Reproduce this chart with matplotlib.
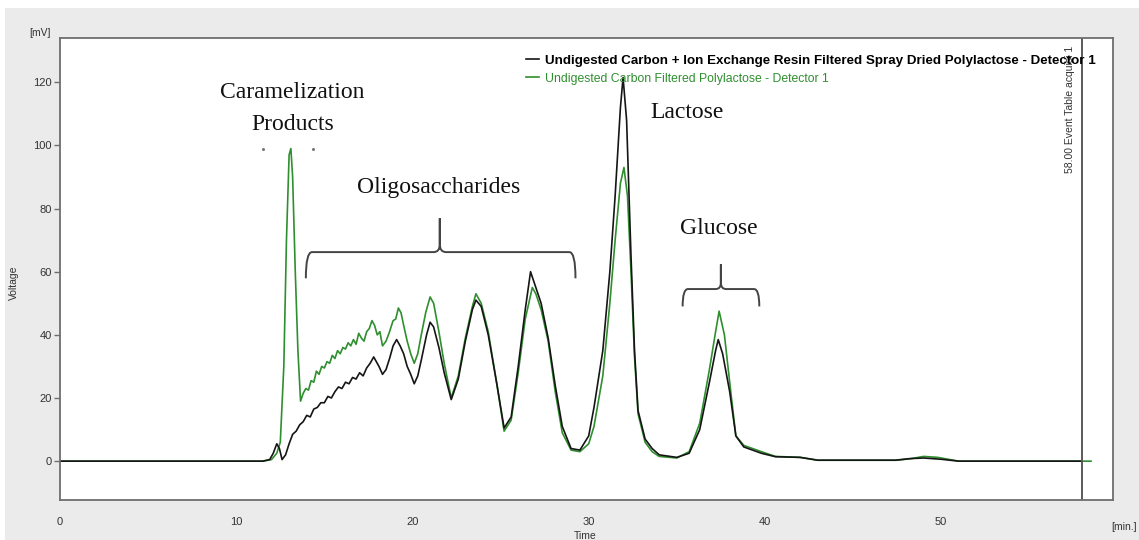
import numpy as np
import matplotlib
matplotlib.use("Agg")
import matplotlib.pyplot as plt
from matplotlib.path import Path
from matplotlib.patches import PathPatch, Rectangle

# --- chromatogram readings (time [min], signal [mV]) ---
resin_t = [0, 11.5, 11.9, 12.1, 12.3, 12.45, 12.6, 12.8, 13.0, 13.2, 13.4, 13.6, 13.8,
           14.0, 14.2, 14.4, 14.6, 14.8, 15.0, 15.2, 15.4, 15.6, 15.8, 16.0, 16.2, 16.4,
           16.6, 16.8, 17.0, 17.2, 17.4, 17.6, 17.8, 17.95, 18.1, 18.3, 18.5, 18.7, 18.9,
           19.1, 19.3, 19.5, 19.7, 19.9, 20.1, 20.3, 20.5, 20.8, 21.0, 21.2, 21.5, 21.8,
           22.2, 22.6, 23.0, 23.4, 23.6, 23.9, 24.3, 24.8, 25.2, 25.6, 26.0, 26.4, 26.7,
           27.0, 27.3, 27.7, 28.1, 28.5, 29.0, 29.5, 30.0, 30.3, 30.8, 31.2, 31.5, 31.8,
           31.95, 32.15, 32.4, 32.6, 32.8, 33.2, 33.6, 34.0, 35.0, 35.7, 36.3, 36.85, 37.2,
           37.35, 37.6, 38.0, 38.35, 38.8, 39.3, 39.8, 40.6, 42.0, 43.0, 47.4, 48.2, 49.0,
           50.0, 51.0, 58.0]
resin_v = [0, 0, 0.5, 2.5, 5.5, 4, 0.5, 2, 5.5, 8.5, 9.5, 11.5, 12.5,
           14.5, 14, 16.5, 17, 18.5, 18.5, 20.5, 20, 22, 23.5, 23, 25, 24.5,
           26.5, 26, 28, 27, 29.5, 31, 33, 31.5, 30, 27.5, 29, 32.5, 36.5,
           38.5, 36.5, 34, 30, 27.5, 24.5, 27, 32, 40, 44, 42.5, 36, 28,
           19.5, 26, 38, 48, 51, 49, 40, 24, 10.5, 14, 30, 48, 60,
           55, 50, 39, 24, 11, 4, 3.5, 8, 17, 35, 60, 84, 112,
           121.5, 108, 65, 35, 16, 7, 4, 2, 1.2, 2.5, 10, 25, 35,
           38.5, 34, 22, 8, 4.5, 3.5, 2.5, 1.4, 1.2, 0.3, 0.3, 0.8, 1.0,
           0.6, 0, 0]

carbon_t = [0, 11.5, 12.0, 12.3, 12.5, 12.7, 12.85, 13.0, 13.1, 13.2, 13.35, 13.5, 13.65,
            13.8, 13.95, 14.1, 14.25, 14.4, 14.55, 14.7, 14.85, 15.0, 15.15, 15.3, 15.45,
            15.6, 15.75, 15.9, 16.05, 16.2, 16.35, 16.5, 16.65, 16.8, 16.95, 17.1, 17.25,
            17.4, 17.55, 17.7, 17.85, 18.0, 18.15, 18.3, 18.5, 18.7, 18.9, 19.05, 19.2,
            19.35, 19.5, 19.7, 19.9, 20.1, 20.3, 20.5, 20.75, 21.0, 21.2, 21.5, 21.8, 22.2,
            22.6, 23.0, 23.4, 23.6, 23.9, 24.3, 24.8, 25.2, 25.6, 26.0, 26.4, 26.8, 27.0,
            27.3, 27.7, 28.1, 28.5, 29.0, 29.5, 30.0, 30.3, 30.8, 31.2, 31.5, 31.8, 32.0,
            32.2, 32.4, 32.6, 32.8, 33.2, 33.6, 34.0, 35.0, 35.7, 36.3, 36.85, 37.2, 37.4,
            37.7, 38.0, 38.35, 38.8, 39.3, 39.8, 40.6, 42.0, 43.0, 47.5, 48.3, 49.0, 49.8,
            50.6, 51.0, 58.5]
carbon_v = [0, 0, 0.5, 2.5, 6, 30, 70, 97, 99, 90, 60, 35, 19,
            21.5, 23, 22.5, 25.5, 25, 28.5, 27.5, 30, 29.5, 31.5, 31, 33.5,
            32.5, 35, 34, 36, 35.5, 37.5, 36.5, 38.5, 37, 40.5, 39, 38,
            41, 42, 44.5, 43, 40, 41, 36.5, 38, 41, 44.5, 45, 48.5,
            47, 43, 38, 34, 31, 34, 40, 47, 52, 50, 41, 31, 20,
            27, 39, 49, 53, 50, 41, 24, 9.5, 13, 28, 45, 55, 53,
            48, 38, 22, 9, 3.5, 3, 5.5, 11, 27, 50, 70, 88, 93,
            84, 60, 33, 15, 6, 3, 1.5, 1, 3, 12, 29, 41, 47.5,
            40, 25, 8, 5, 4, 3, 1.5, 1.2, 0.3, 0.3, 0.8, 1.5, 1.2,
            0.4, 0, 0]

resin_label = "Undigested Carbon + Ion Exchange Resin Filtered Spray Dried Polylactose - Detector 1"
carbon_label = "Undigested Carbon Filtered Polylactose - Detector 1"
y_ticks = [0, 20, 40, 60, 80, 100, 120]
x_ticks = [0, 10, 20, 30, 40, 50]

GREEN = "#2f8f2f"
BG = "#ebebeb"

fig = plt.figure(figsize=(11.39, 5.40), dpi=100, facecolor="white")
fig.patches.append(Rectangle((5 / 1139, 0), 1, 1 - 8 / 540, transform=fig.transFigure,
                             facecolor=BG, edgecolor="none", zorder=-10))
ax = fig.add_axes([60 / 1139, 40 / 540, 1053 / 1139, 462 / 540])
ax.set_facecolor("white")

g, = ax.plot(carbon_t, carbon_v, color=GREEN, lw=1.2, label=carbon_label)
k, = ax.plot(resin_t, resin_v, color="#151515", lw=1.2, label=resin_label)

ax.set_xlim(0, 59.75)
ax.set_ylim(-12.3, 134)
ax.set_xticks(x_ticks)
ax.set_yticks(y_ticks)
for s in ax.spines.values():
    s.set_color("#6e6e6e")
    s.set_linewidth(1.3)
ax.tick_params(axis="y", length=4, width=1, color="#6e6e6e", labelsize=8,
               labelcolor="#333333", pad=2)
ax.tick_params(axis="x", length=0, labelsize=8, labelcolor="#333333", pad=12)
for lab in ax.get_xticklabels() + ax.get_yticklabels():
    lab.set_family("Liberation Sans")

# event marker
ax.axvline(58.0, color="#5a5a5a", lw=1.4)
ax.text(57.3, 131.5, "58.00 Event Table acquisi 1", rotation=90, ha="center", va="top",
        fontsize=7.5, family="Liberation Sans", color="#333333")

leg = ax.legend(handles=[k, g], loc="upper right", bbox_to_anchor=(0.9885, 0.975),
                frameon=False, borderaxespad=0, handlelength=1.0, handletextpad=0.5,
                labelspacing=0.5, prop={"family": "Liberation Sans", "size": 9})
leg.get_texts()[0].set_fontweight("bold")
leg.get_texts()[0].set_fontsize(9.6)
leg.get_texts()[1].set_color(GREEN)
leg.get_texts()[1].set_fontsize(8.8)

# axis captions
fig.text(40 / 1139, 1 - 33 / 540, "[mV]", fontsize=7.5, color="#333333",
         family="Liberation Sans", ha="center", va="center")
fig.text(14 / 1139, 1 - 283 / 540, "Voltage", fontsize=7.5, color="#333333", rotation=90,
         family="Liberation Sans", ha="center", va="center")
fig.text(585 / 1139, 1 - 536 / 540, "Time", fontsize=7.5, color="#333333",
         family="Liberation Sans", ha="center", va="center")
fig.text(1124 / 1139, 1 - 527 / 540, "[min.]", fontsize=7.5, color="#333333",
         family="Liberation Sans", ha="center", va="center")

# peak annotations
serif = dict(family="Liberation Serif", fontsize=17, color="#111111", ha="center", va="center")
ax.text(13.2, 116.8, "Caramelization", **serif)
ax.text(13.2, 106.6, "Products", **serif)
ax.text(21.5, 86.7, "Oligosaccharides", **serif)
ax.text(35.6, 110.4, "Lactose", **serif)
ax.text(37.4, 73.7, "Glucose", **serif)
ax.plot([11.5, 14.36], [99, 99], ls="none", marker="o", ms=1.2, color="#777777")


def brace(x0, x1, xc, yh, yb, yt, dx, dy):
    verts = [(x0, yb), (x0, yh), (x0 + dx, yh),
             (xc - dx, yh), (xc, yh), (xc, yh + dy), (xc, yt),
             (xc, yh + dy), (xc, yh), (xc + dx, yh),
             (x1 - dx, yh), (x1, yh), (x1, yb)]
    codes = [Path.MOVETO, Path.CURVE3, Path.CURVE3,
             Path.LINETO, Path.CURVE3, Path.CURVE3, Path.LINETO,
             Path.LINETO, Path.CURVE3, Path.CURVE3,
             Path.LINETO, Path.CURVE3, Path.CURVE3]
    ax.add_patch(PathPatch(Path(verts, codes), facecolor="none", edgecolor="#444444", lw=1.4))


brace(13.95, 29.25, 21.55, 66.2, 57.9, 76.9, 0.35, 2.5)
brace(35.33, 39.68, 37.5, 54.5, 49.0, 62.3, 0.3, 2.0)

fig.savefig("out.png", dpi=100, facecolor=fig.get_facecolor())
